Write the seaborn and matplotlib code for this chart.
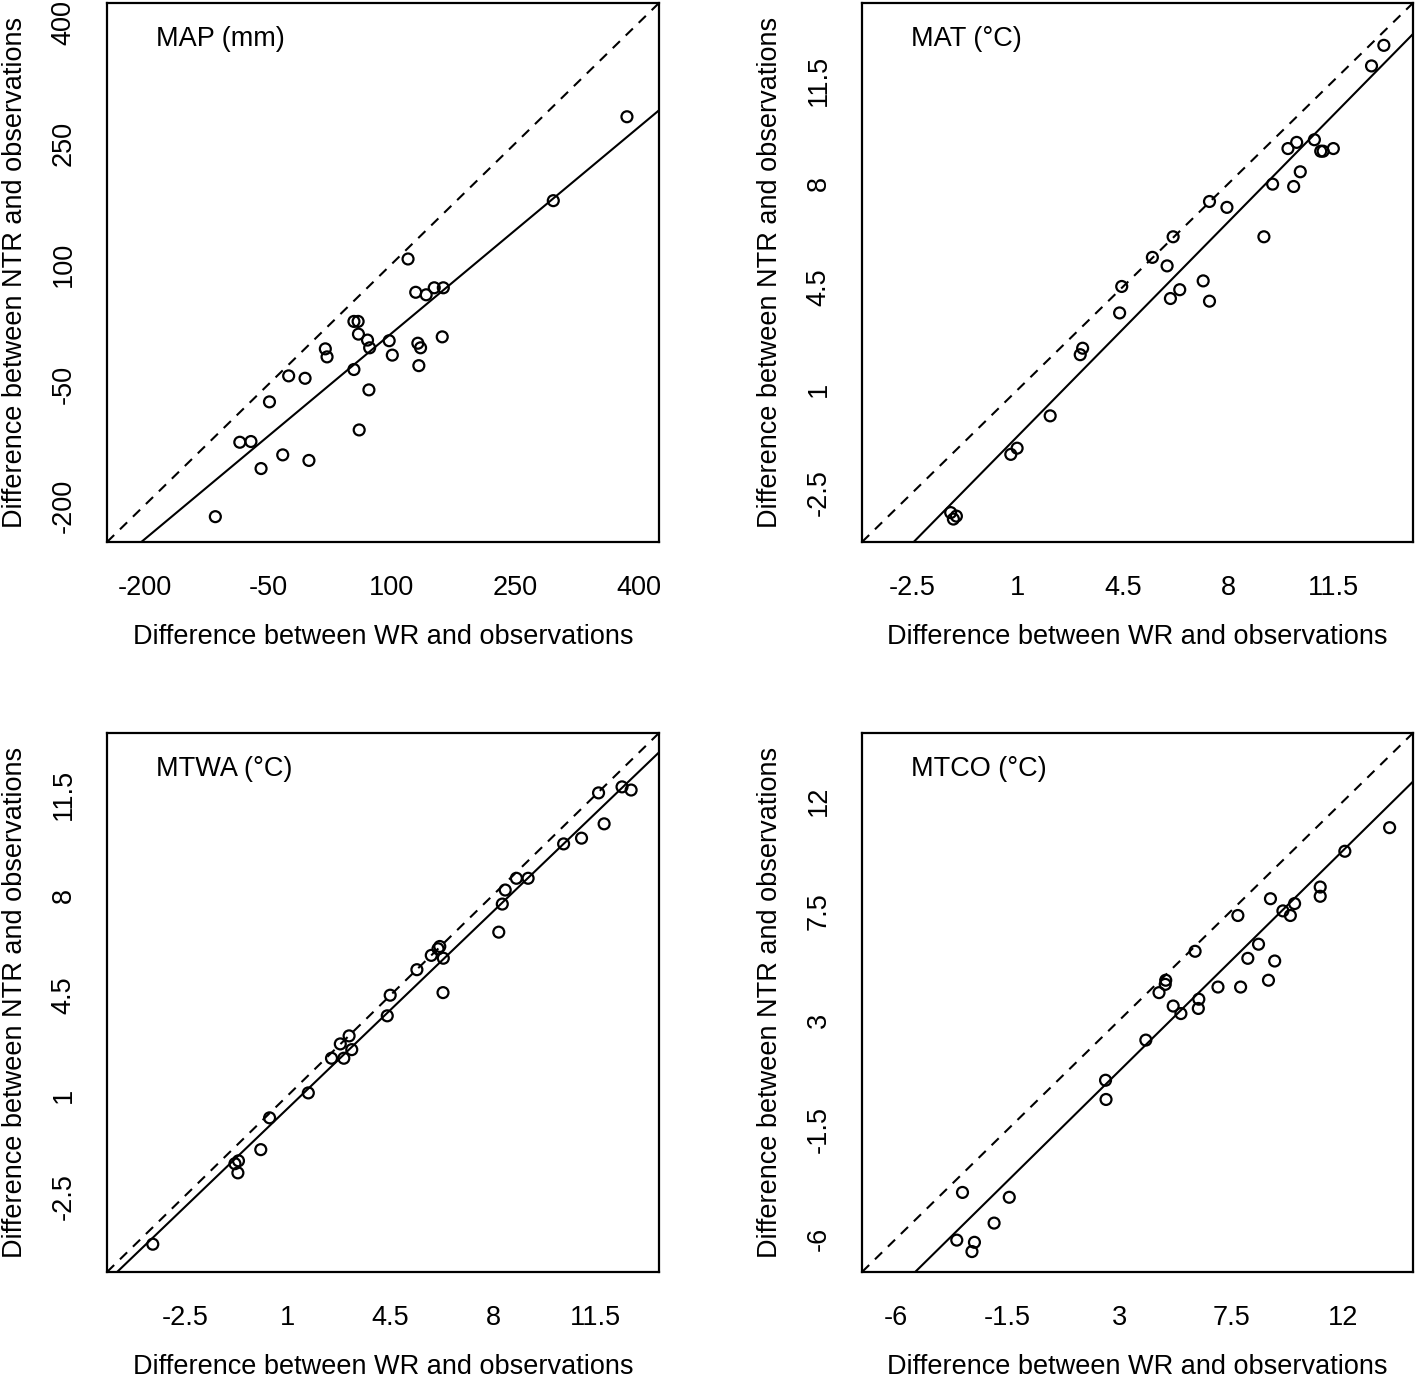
import matplotlib
matplotlib.use("Agg")
import matplotlib.pyplot as plt
import seaborn as sns

sns.set_theme(style="white")
plt.rcParams["font.family"] = ["Liberation Sans", "DejaVu Sans"]

# ---- data ----
# MAP (mm)
map_wr = [385.6, 296.2, 119.9, 129.2, 141.9, 151.7, 162.7, 54.2, 59.3, 59.7,
          70.7, 73.3, 97.0, 100.8, 131.8, 135.1, 161.4, 133.0, 19.5, 21.6,
          -25.0, -5.1, 54.2, 72.4, -48.3, -84.3, -70.8, 60.6, -32.2, -58.5,
          -0.4, -114.0]
map_ntr = [283.1, 178.8, 106.3, 64.9, 61.8, 70.5, 70.5, 28.7, 28.7, 12.9,
           5.5, -4.1, 4.7, -13.2, 1.6, -4.1, 9.5, -26.3, -5.4, -15.4,
           -39.0, -42.0, -31.1, -56.4, -71.3, -121.5, -120.6, -106.2, -137.2, -154.2,
           -144.1, -214.0]

# MAT (deg C)
mat_wr = [13.18, 12.77, 9.99, 10.28, 10.87, 11.08, 11.16, 11.50, 10.40, 9.48,
          10.18, 7.38, 7.96, 9.19, 6.17, 5.48, 5.97, 4.46, 7.17, 6.39,
          6.08, 7.38, 4.39, 3.16, 3.08, 2.08, 0.98, 0.77, -1.23, -1.04, -1.14]
mat_ntr = [12.71, 12.01, 9.20, 9.41, 9.50, 9.11, 9.11, 9.20, 8.41, 7.99,
           7.91, 7.40, 7.20, 6.20, 6.20, 5.50, 5.21, 4.51, 4.70, 4.40,
           4.10, 4.01, 3.61, 2.41, 2.19, 0.11, -0.99, -1.20, -3.18, -3.30, -3.40]

# MTWA (deg C)
mtwa_wr = [12.40, 12.71, 11.60, 11.79, 10.41, 11.02, 8.80, 9.20, 8.42, 8.32,
           8.20, 6.19, 6.13, 5.90, 6.31, 5.41, 6.30, 4.50, 4.40, 3.10,
           2.80, 3.19, 2.50, 2.92, 1.71, 0.39, 0.09, -0.67, -0.79, -0.69, -3.59]
mtwa_ntr = [11.78, 11.67, 11.57, 10.49, 9.79, 9.99, 8.59, 8.59, 8.18, 7.69,
            6.71, 6.21, 6.13, 5.90, 5.80, 5.40, 4.60, 4.51, 3.79, 3.09,
            2.81, 2.61, 2.31, 2.31, 1.10, 0.23, -0.88, -1.27, -1.37, -1.69, -4.18]

# MTCO (deg C)
mtco_wr = [13.86, 12.06, 11.07, 11.07, 9.07, 10.04, 9.57, 9.87, 7.76, 8.59,
           8.16, 9.24, 6.04, 4.86, 4.84, 4.59, 6.96, 7.87, 8.99, 5.16,
           5.47, 6.19, 6.17, 4.06, 2.44, 2.46, -3.31, -1.43, -2.04, -3.54,
           -2.83, -2.93]
mtco_ntr = [10.91, 9.94, 8.47, 8.09, 7.99, 7.79, 7.49, 7.30, 7.30, 6.12,
            5.54, 5.43, 5.83, 4.64, 4.47, 4.13, 4.36, 4.36, 4.64, 3.58,
            3.27, 3.86, 3.48, 2.18, 0.53, -0.26, -4.08, -4.28, -5.34, -6.04,
            -6.13, -6.51]

# fitted lines (slope, intercept) as drawn in the figure
map_fit = (0.854, -71.4)
mat_fit = (1.040, -1.62)
mtwa_fit = (0.982, -0.43)
mtco_fit = (1.007, -2.10)

# ticks
map_ticks = [-200, -50, 100, 250, 400]
map_ticklabels = ["-200", "-50", "100", "250", "400"]
mat_ticks = [-2.5, 1, 4.5, 8, 11.5]
mat_ticklabels = ["-2.5", "1", "4.5", "8", "11.5"]
mtwa_ticks = [-2.5, 1, 4.5, 8, 11.5]
mtwa_ticklabels = ["-2.5", "1", "4.5", "8", "11.5"]
mtco_ticks = [-6, -1.5, 3, 7.5, 12]
mtco_ticklabels = ["-6", "-1.5", "3", "7.5", "12"]

titles = ["MAP (mm)", "MAT (°C)", "MTWA (°C)", "MTCO (°C)"]
xlabel = "Difference between WR and observations"
ylabel = "Difference between NTR and observations"

panels = [
    (map_wr, map_ntr, map_fit, map_ticks, map_ticklabels, (-245.5, 424.5)),
    (mat_wr, mat_ntr, mat_fit, mat_ticks, mat_ticklabels, (-4.18, 14.15)),
    (mtwa_wr, mtwa_ntr, mtwa_fit, mtwa_ticks, mtwa_ticklabels, (-5.15, 13.66)),
    (mtco_wr, mtco_ntr, mtco_fit, mtco_ticks, mtco_ticklabels, (-7.35, 14.8)),
]

W, H = 1418, 1381
# axes boxes in pixels: left, top, right, bottom
boxes = [(107, 3, 659, 542), (862, 3, 1413, 542),
         (107, 733, 659, 1272), (862, 733, 1413, 1272)]

fs = 19.5
fig = plt.figure(figsize=(W / 100, H / 100), dpi=100)

for (x, y, fit, ticks, ticklabels, lim), title, (l, t, r, b) in zip(panels, titles, boxes):
    ax = fig.add_axes([l / W, (H - b) / H, (r - l) / W, (b - t) / H])
    ax.set_xlim(lim)
    ax.set_ylim(lim)

    # 1:1 line and fitted line
    ax.axline((0, 0), slope=1, color="black", lw=1.5, ls=(0, (4.8, 3.9)))
    ax.axline((0, fit[1]), slope=fit[0], color="black", lw=1.5)
    sns.scatterplot(x=x, y=y, ax=ax, marker="o", s=62, facecolor="none",
                    edgecolor="black", linewidth=1.6, zorder=3)

    ax.set_xticks(ticks, ticklabels)
    ax.set_yticks(ticks, ticklabels)
    ax.tick_params(axis="both", direction="out", length=12, width=1.5,
                   color="black", labelsize=fs, labelcolor="black")
    ax.tick_params(axis="x", pad=12)
    ax.tick_params(axis="y", pad=10, labelrotation=90)
    for lab in ax.get_yticklabels():
        lab.set_verticalalignment("center")

    for sp in ax.spines.values():
        sp.set_linewidth(1.6)
        sp.set_color("black")

    ax.set_xlabel(xlabel, fontsize=fs, color="black", va="baseline")
    ax.xaxis.set_label_coords(0.5, -102 / (b - t))
    ax.set_ylabel(ylabel, fontsize=fs, color="black", va="center")
    ax.yaxis.set_label_coords(-92 / (r - l), 0.5)

    ax.text(49 / (r - l), 1 - 43 / (b - t), title, transform=ax.transAxes,
            fontsize=fs, va="baseline", ha="left", color="black")

fig.savefig("out.png", dpi=100)
